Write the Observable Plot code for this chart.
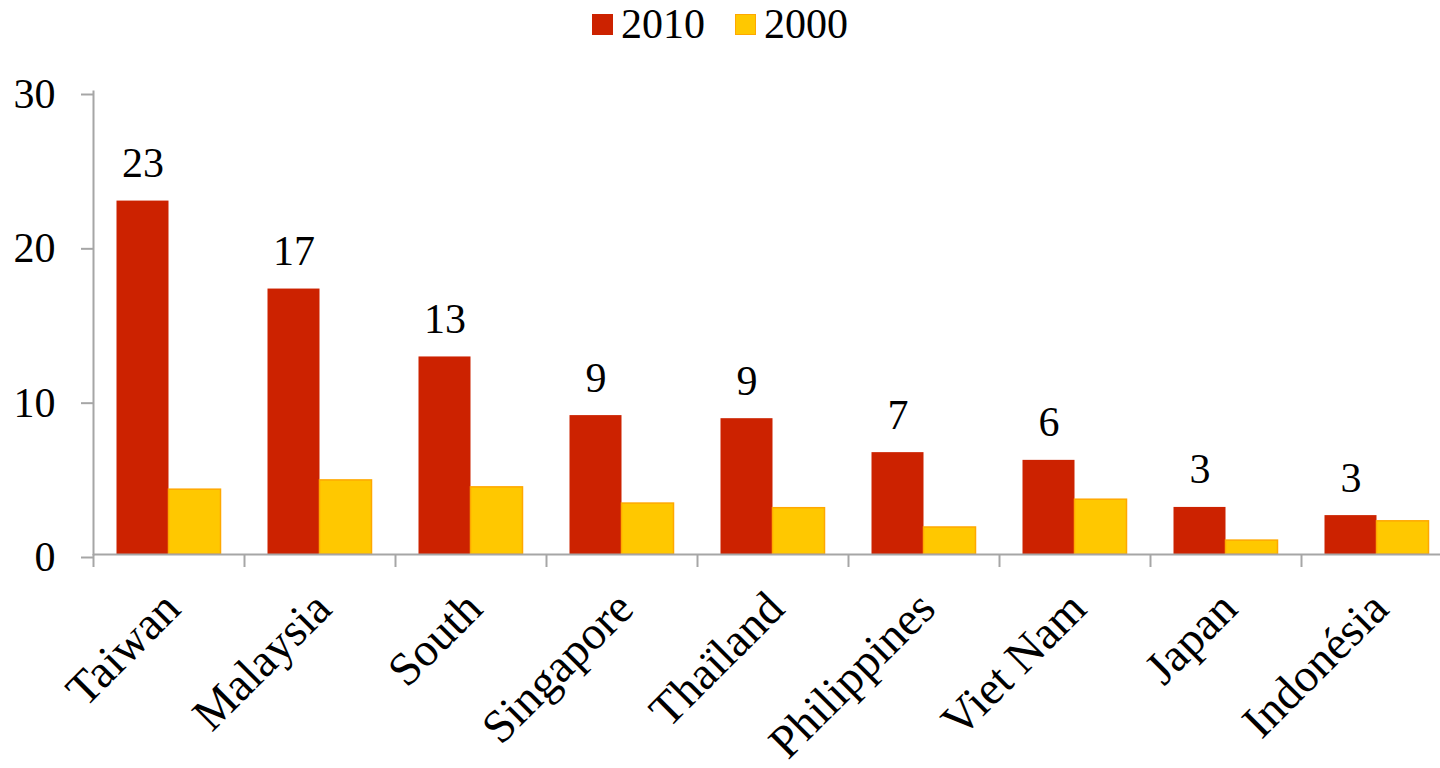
<!DOCTYPE html>
<html>
<head>
<meta charset="utf-8">
<script src="https://cdn.jsdelivr.net/npm/d3@7"></script>
<script src="https://cdn.jsdelivr.net/npm/@observablehq/plot@0.6"></script>
<style>
  html, body { margin: 0; padding: 0; background: #fff; overflow: hidden; }
  body { width: 1440px; height: 768px; font-family: "Liberation Serif", "Times New Roman", serif; }
  #legend { height: 55px; display: flex; justify-content: center; align-items: flex-start; font-size: 42px; color: #000; }
  .item { display: flex; align-items: center; margin: 0 15px; height: 48px; }
  .sw { width: 21px; height: 21px; margin-right: 8px; box-sizing: border-box; }
  #chart svg { display: block; overflow: visible; }
</style>
</head>
<body>
<div id="legend"></div>
<div id="chart"></div>
<script>
const countries = ["Taiwan", "Malaysia", "South", "Singapore", "Thaïland", "Philippines", "Viet Nam", "Japan", "Indonésia"];
const values2010 = [22.9, 17.2, 12.8, 9.0, 8.8, 6.6, 6.1, 3.05, 2.52];
const values2000 = [4.2, 4.8, 4.35, 3.3, 3.0, 1.75, 3.55, 0.9, 2.15];
const yTicks = [0, 10, 20, 30];
const seriesNames = ["2010", "2000"];
const seriesColors = ["#CC2200", "#FFC800"];
const seriesStrokes = ["#CC2200", "#FFA800"];

const data = countries.map((c, i) => ({country: c, v2010: values2010[i], v2000: values2000[i]}));

// legend
const legend = document.getElementById("legend");
seriesNames.forEach((s, i) => {
  const it = document.createElement("div");
  it.className = "item";
  const sw = document.createElement("div");
  sw.className = "sw";
  sw.style.background = seriesColors[i];
  sw.style.border = "1.5px solid " + seriesStrokes[i];
  const t = document.createElement("span");
  t.textContent = s;
  it.appendChild(sw); it.appendChild(t);
  legend.appendChild(it);
});

const font = '"Liberation Serif", "Times New Roman", serif';
const gray = "#A6A6A6";
const step = (1452 - 93) / countries.length;
const outer = 23.5;
const half = step / 2;

const chart = Plot.plot({
  width: 1440,
  height: 713,
  marginLeft: 93,
  marginRight: -12,
  marginTop: 36,
  marginBottom: 214,
  style: {fontFamily: font, fontSize: "42px", color: "#000", background: "#fff"},
  x: {domain: countries, padding: 0, axis: null},
  y: {domain: [0, 30], axis: null},
  marks: [
    Plot.barY(data, {x: "country", y: "v2010", fill: seriesColors[0], insetLeft: outer, insetRight: half}),
    Plot.barY(data, {x: "country", y: "v2000", fill: seriesColors[1], stroke: seriesStrokes[1], strokeWidth: 1.5, insetLeft: half, insetRight: outer}),
    Plot.text(data, {x: "country", y: "v2010", text: d => String(Math.round(d.v2010)), dx: -(half - outer) / 2, dy: -24, lineAnchor: "bottom", fontSize: 42, fontFamily: font, fill: "#000"}),
    Plot.frame({anchor: "left", stroke: gray, strokeWidth: 2}),
    Plot.ruleY([0], {stroke: gray, strokeWidth: 2}),
    Plot.axisY({ticks: yTicks, tickSize: 12, tickPadding: 26, stroke: gray, strokeWidth: 2, fontSize: 42, fontFamily: font, dy: 3, label: null}),
    Plot.axisX({tickSize: 13, tickFormat: () => "", dx: -half, stroke: gray, strokeWidth: 2, label: null}),
    Plot.axisX([countries[countries.length - 1]], {tickSize: 13, tickFormat: () => "", dx: half, stroke: gray, strokeWidth: 2, label: null}),
    Plot.axisX({tickSize: 0, tickRotate: -45, tickPadding: 46, fontSize: 47, fontFamily: font, label: null, dx: 3})
  ]
});
document.getElementById("chart").appendChild(chart);
</script>
</body>
</html>
